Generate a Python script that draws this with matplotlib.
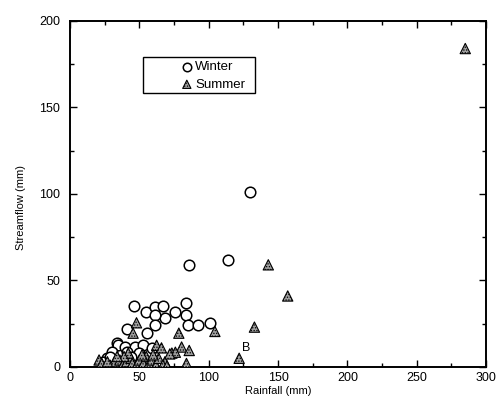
import numpy as np
import matplotlib
matplotlib.use("Agg")
import matplotlib.pyplot as plt
from matplotlib.ticker import MultipleLocator
from matplotlib.patches import Rectangle

plt.rcParams["font.family"] = ["Liberation Sans", "DejaVu Sans"]
plt.rcParams["hatch.linewidth"] = 0.6

# ── Data (rainfall mm, streamflow mm) ───────────────────────────────────────
winter_rain = [130, 114, 86, 84, 46, 55, 61, 67, 76, 84, 68.5, 61, 61, 85, 92, 101,
               41, 55.5, 34, 35, 40, 47, 53, 59, 30, 27, 24, 29, 41, 50, 44]
winter_flow = [101, 62, 59, 37, 35, 32, 34.5, 35, 31.5, 30, 28.5, 30, 24, 24.5, 24.5, 25.5,
               22, 19.5, 14, 12.5, 11.5, 11.5, 12.5, 11, 8.5, 5, 3, 6, 8.5, 8, 6]

summer_rain = [285, 143, 157, 133, 122, 104.5, 78.5, 48, 45.5, 62.5, 80.5, 86, 73.5, 66,
               84, 68.5, 76, 72,
               21, 23, 26, 29, 32, 36, 38, 41, 44, 45, 48, 50, 53, 55, 57, 59, 62, 64,
               67, 70, 42, 39, 52, 60, 34, 27]
summer_flow = [184, 59, 41, 23, 5, 20.5, 19.5, 25.5, 19.5, 12.5, 11.5, 9.5, 8, 11,
               2, 3, 8.5, 7.5,
               4, 2, 1, 1, 3, 4, 1, 3, 5, 2, 1, 4, 2, 6, 2, 4, 1, 5,
               1, 0.5, 8, 6, 7, 7, 6, 3]

label_b = ("B", 127, 11)

fig = plt.figure(figsize=(4.96, 4.01), dpi=100)
ax = fig.add_axes([0.141, 0.085, 0.839, 0.863])

ax.scatter(winter_rain, winter_flow, s=58, marker="o", facecolor="white",
           edgecolor="black", linewidth=1.1, zorder=2, label="Winter")
ax.scatter(summer_rain, summer_flow, s=55, marker="^", facecolor="#a0a0a0",
           edgecolor="black", linewidth=0.8, hatch="......", zorder=3, label="Summer")
ax.text(label_b[1], label_b[2], label_b[0], fontsize=9, ha="center", va="center")

ax.set_xlim(0, 300)
ax.set_ylim(0, 200)
ax.xaxis.set_major_locator(MultipleLocator(50))
ax.xaxis.set_minor_locator(MultipleLocator(25))
ax.yaxis.set_major_locator(MultipleLocator(50))
ax.yaxis.set_minor_locator(MultipleLocator(25))
ax.tick_params(which="both", direction="in", top=True, right=True, width=1)
ax.tick_params(which="major", length=5, labelsize=9)
ax.tick_params(which="minor", length=3)
ax.tick_params(axis="y", pad=7)
ax.tick_params(axis="x", pad=4)
for sp in ax.spines.values():
    sp.set_linewidth(1.4)

ax.set_xlabel("Rainfall (mm)", fontsize=8, labelpad=1)
ax.set_ylabel("Streamflow (mm)", fontsize=8)
ax.yaxis.set_label_coords(-0.105, 0.46)

# legend: entries without frame, box drawn separately (wider than entries)
leg = ax.legend(loc="upper left", bbox_to_anchor=(0.265, 0.884), fontsize=9.5,
                frameon=False, handletextpad=0.15, borderpad=0, labelspacing=0.4,
                handlelength=1.0, borderaxespad=0, markerscale=0.8)
ax.add_patch(Rectangle((0.175, 0.791), 0.27, 0.104, transform=ax.transAxes,
                       fill=False, edgecolor="black", linewidth=1.0, zorder=5))

fig.savefig("out.png", dpi=100)
